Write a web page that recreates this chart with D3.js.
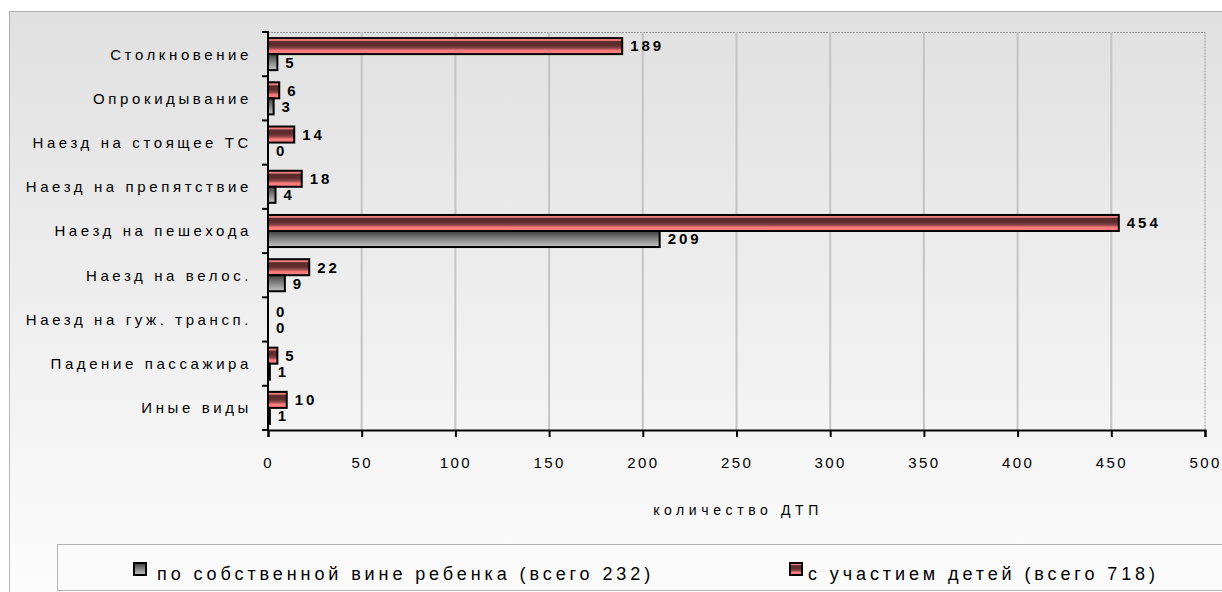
<!DOCTYPE html>
<html>
<head>
<meta charset="utf-8">
<script src="https://cdn.jsdelivr.net/npm/d3@7/dist/d3.min.js"></script>
<style>
  html, body { margin: 0; padding: 0; background: #ffffff; }
  svg { display: block; font-family: Arial, "Liberation Sans", sans-serif; }
</style>
</head>
<body>
<svg id="chart" width="1222" height="592"></svg>
<script>
// Types of road accidents involving children
const categories = [
  "Столкновение",
  "Опрокидывание",
  "Наезд на стоящее ТС",
  "Наезд на препятствие",
  "Наезд на пешехода",
  "Наезд на велос.",
  "Наезд на гуж. трансп.",
  "Падение пассажира",
  "Иные виды"
];
const withChildren = [189, 6, 14, 18, 454, 22, 0, 5, 10];
const childFault   = [5, 3, 0, 4, 209, 9, 0, 1, 1];
const seriesNames = [
  "с участием детей (всего 718)",
  "по собственной вине ребенка (всего 232)"
];
const xTicks = [0, 50, 100, 150, 200, 250, 300, 350, 400, 450, 500];
const xTitle = "количество ДТП";

const svg = d3.select("#chart");
const defs = svg.append("defs");

// background gradient for the chart area
const bg = defs.append("linearGradient").attr("id", "bgGrad")
  .attr("x1", 0).attr("y1", 0).attr("x2", 0).attr("y2", 1);
bg.append("stop").attr("offset", "0%").attr("stop-color", "#e0e0e0");
bg.append("stop").attr("offset", "100%").attr("stop-color", "#fdfdfd");

// striped red fill
const redG = defs.append("linearGradient").attr("id", "redGrad")
  .attr("x1", 0).attr("y1", 0).attr("x2", 0).attr("y2", 1);
[["0%", "#f08080"], ["14%", "#f08080"], ["22%", "#5a2a2a"], ["45%", "#5e2d2d"],
 ["62%", "#8a4444"], ["78%", "#ff7a7a"], ["100%", "#ff8080"]]
  .forEach(([o, c]) => redG.append("stop").attr("offset", o).attr("stop-color", c));

// gray fill, dark to light
const grayG = defs.append("linearGradient").attr("id", "grayGrad")
  .attr("x1", 0).attr("y1", 0).attr("x2", 0).attr("y2", 1);
[["0%", "#3c3c3c"], ["35%", "#707070"], ["100%", "#c8c8c8"]]
  .forEach(([o, c]) => grayG.append("stop").attr("offset", o).attr("stop-color", c));

const fills = ["url(#redGrad)", "url(#grayGrad)"];

// outer chart area
svg.append("rect").attr("x", 9.5).attr("y", 11.5).attr("width", 1230).attr("height", 600)
  .attr("fill", "url(#bgGrad)").attr("stroke", "#707070").attr("stroke-width", 1)
  .attr("stroke-dasharray", "1,1");

const x = d3.scaleLinear().domain([0, 500]).range([268, 1205]);
const y = d3.scaleBand().domain(categories).range([32, 430]).padding(0);
const sub = d3.scaleBand().domain([0, 1]).range([0, y.bandwidth()])
  .paddingInner(0).paddingOuter(0.38);

// plot area border (top and right)
svg.append("path")
  .attr("d", `M${x(0)},32.5 H${x(500)} V430`)
  .attr("fill", "none").attr("stroke", "#9a9a9a").attr("stroke-width", 1)
  .attr("stroke-dasharray", "2,1");

// vertical gridlines
svg.append("g").selectAll("line").data(xTicks.filter(t => t > 0 && t < 500)).join("line")
  .attr("x1", d => x(d)).attr("x2", d => x(d))
  .attr("y1", 32).attr("y2", 430)
  .attr("stroke", "#c4c4c4").attr("stroke-width", 2);

// bars
const rows = categories.map((c, i) => ({ c, v: [withChildren[i], childFault[i]] }));
const groups = svg.append("g").selectAll("g").data(rows).join("g")
  .attr("transform", d => `translate(0,${y(d.c)})`);

groups.selectAll("rect").data(d => d.v.map((v, s) => ({ v, s })).filter(e => e.v > 0)).join("rect")
  .attr("x", x(0))
  .attr("y", e => sub(e.s))
  .attr("width", e => x(e.v) - x(0))
  .attr("height", sub.bandwidth())
  .attr("fill", e => fills[e.s])
  .attr("stroke", "#000").attr("stroke-width", 2);

groups.selectAll("text").data(d => d.v.map((v, s) => ({ v, s }))).join("text")
  .attr("x", e => x(e.v) + 8)
  .attr("y", e => sub(e.s) + sub.bandwidth() / 2)
  .attr("dy", "0.36em")
  .attr("font-size", 15).attr("font-weight", "bold")
  .attr("letter-spacing", 3)
  .attr("fill", "#000")
  .text(e => e.v);

// y axis
const yAxisG = svg.append("g");
yAxisG.append("line").attr("x1", x(0)).attr("x2", x(0)).attr("y1", 31).attr("y2", 431)
  .attr("stroke", "#000").attr("stroke-width", 2);
const bounds = categories.map(c => y(c)).concat([430]);
yAxisG.selectAll("line.tick").data(bounds).join("line").attr("class", "tick")
  .attr("x1", x(0) - 6).attr("x2", x(0)).attr("y1", d => d).attr("y2", d => d)
  .attr("stroke", "#000").attr("stroke-width", 2);
yAxisG.selectAll("text").data(categories).join("text")
  .attr("x", 252)
  .attr("y", d => y(d) + y.bandwidth() / 2)
  .attr("dy", "0.36em")
  .attr("text-anchor", "end")
  .attr("font-size", 15)
  .attr("letter-spacing", 3.6)
  .attr("fill", "#000")
  .text(d => d);

// x axis
const xAxis = d3.axisBottom(x).tickValues(xTicks).tickSize(7).tickPadding(20);
const xg = svg.append("g").attr("transform", "translate(0,430)").call(xAxis);
xg.select(".domain").attr("stroke", "#000").attr("stroke-width", 2);
xg.selectAll(".tick line").attr("stroke", "#000").attr("stroke-width", 2);
xg.selectAll(".tick text")
  .attr("font-size", 15).attr("letter-spacing", 2.4).attr("fill", "#000")
  .attr("font-family", "Arial, 'Liberation Sans', sans-serif");

svg.append("text")
  .attr("x", 738).attr("y", 515)
  .attr("text-anchor", "middle")
  .attr("font-size", 14).attr("letter-spacing", 4.6)
  .attr("fill", "#000")
  .text(xTitle);

// legend
const lg = svg.append("g");
lg.append("rect").attr("x", 57.5).attr("y", 544.5).attr("width", 1200).attr("height", 46)
  .attr("fill", "#fbfbfb").attr("stroke", "#707070").attr("stroke-width", 1)
  .attr("stroke-dasharray", "1,1");
const legendItems = [
  { name: seriesNames[1], fill: fills[1], sx: 134, tx: 157 },
  { name: seriesNames[0], fill: fills[0], sx: 790, tx: 808 }
];
const li = lg.selectAll("g").data(legendItems).join("g");
li.append("rect").attr("x", d => d.sx).attr("y", 563).attr("width", 12).attr("height", 12)
  .attr("fill", d => d.fill).attr("stroke", "#000").attr("stroke-width", 2);
li.append("text").attr("x", d => d.tx).attr("y", 580)
  .attr("font-size", 18).attr("letter-spacing", 3.9).attr("fill", "#000")
  .text(d => d.name);
</script>
</body>
</html>
